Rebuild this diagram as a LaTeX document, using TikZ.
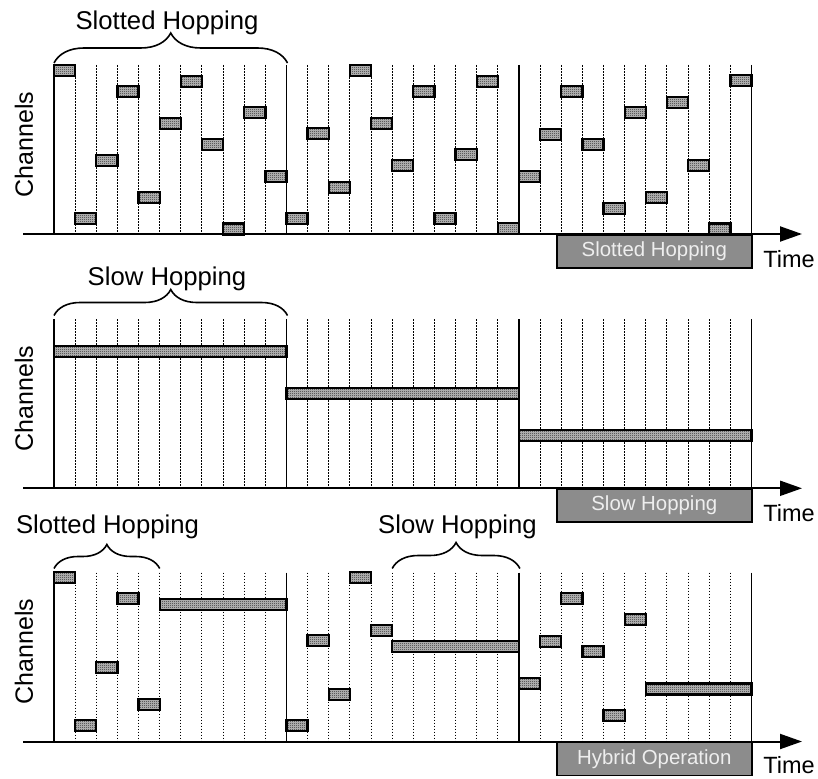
\documentclass[tikz,border=0pt]{standalone}
\usepackage{fontspec}
\setmainfont{Liberation Sans}
\usetikzlibrary{arrows.meta,patterns,decorations.pathreplacing}

% fine checkerboard used inside the channel occupancy blocks
\pgfdeclarepatternformonly{finechecker}{\pgfpointorigin}{\pgfpoint{2pt}{2pt}}{\pgfpoint{2pt}{2pt}}{%
  \pgfpathrectangle{\pgfpointorigin}{\pgfpoint{1pt}{1pt}}%
  \pgfpathrectangle{\pgfpoint{1pt}{1pt}}{\pgfpoint{1pt}{1pt}}%
  \pgfusepath{fill}}

\definecolor{boxgray}{RGB}{140,140,140}
\definecolor{boxtext}{RGB}{238,238,238}

% slot geometry: 33 slots of equal width starting at x = 54
\def\slotw{21.136}
\def\xorg{54}

% #1 panel top, #2 first slot, #3 slot after the last one, #4 depth below the top
\newcommand\hopblock[4]{%
  \pgfmathsetmacro\hbxa{\xorg+(#2)*\slotw}%
  \pgfmathsetmacro\hbxb{\xorg+(#3)*\slotw}%
  \pgfmathsetmacro\hbya{#1+#4}%
  \draw[chblock] (\hbxa,\hbya) rectangle (\hbxb,\hbya+11);}

% grid, frame separators and time axis of one panel; #1 axis y
\newcommand\hoppanel[2]{%
  \pgfmathsetmacro\hptop{#1-169}%
  \foreach \k in {1,...,32}{%
    \pgfmathtruncatemacro\km{mod(\k,11)}%
    \ifnum\km=0\else
      \pgfmathsetmacro\hpx{\xorg+\k*\slotw}%
      \draw[slotline] (\hpx,\hptop) -- (\hpx,#1);
    \fi}%
  #2%
  \foreach \k in {0,11,22,33}{%
    \pgfmathsetmacro\hpx{\xorg+\k*\slotw}%
    \draw[frameline] (\hpx,\hptop) -- (\hpx,#1);}%
}

\begin{document}
\begin{tikzpicture}[x=1pt,y=-1pt,
  slotline/.style={line width=1pt,dash pattern=on 1.8pt off 1.2pt,black},
  frameline/.style={line width=1.8pt,black},
  chblock/.style={line width=2.3pt,black,preaction={fill=black!25},pattern=finechecker,pattern color=black!85},
  timeaxis/.style={line width=2pt,-{Triangle[length=22pt,width=15pt]}},
  modebox/.style={draw=black,line width=1.6pt,fill=boxgray,text=boxtext,minimum width=195pt,minimum height=33pt,inner sep=0pt,font=\fontsize{20.4}{24}\selectfont},
  bracelabel/.style={anchor=base,inner sep=0pt,font=\fontsize{25.7}{30}\selectfont},
  axislabel/.style={inner sep=0pt,font=\fontsize{25}{30}\selectfont},
  timelabel/.style={anchor=base,inner sep=0pt,font=\fontsize{23.5}{28}\selectfont},
  hopbrace/.style={decorate,line width=1.6pt,decoration={brace,amplitude=#1}}]

\useasboundingbox (0,0) rectangle (818,778);

% ---------------- slotted hopping ----------------
\hoppanel{234}{%
  \foreach \s/\d in {0/0,1/148.3,2/90,3/21,4/127.3,5/52.7,6/11,7/74.3,8/158.5,9/42.3,10/106,
                     11/148.3,12/63.3,13/116.7,14/0,15/52.7,16/95,17/21,18/148.3,19/84.3,20/10.7,21/158.3,
                     22/105.7,23/63.7,24/21,25/74.3,26/137.7,27/42.3,28/127,29/31.7,30/95,31/158.5,32/10.3}
    {\hopblock{65}{\s}{\s+1}{\d}}}
\coordinate (a1s) at (23,234); \coordinate (a1e) at (802,234);
\draw[timeaxis] (a1s) -- (a1e);
\node[modebox,anchor=north west] (m1) at (556,234) {Slotted Hopping};
\node[timelabel] (t1) at (789,267) {Time};
\node[axislabel,rotate=90] (c1) at (24,144.5) {Channels};
\coordinate (b1l) at (54,63); \coordinate (b1r) at (287.5,63);
\draw[hopbrace=30pt] (b1l) -- (b1r);
\node[bracelabel] (l1) at (167,29.5) {Slotted Hopping};

% ---------------- slow hopping ----------------
\hoppanel{488.3}{%
  \hopblock{319.3}{0}{11}{26.5}%
  \hopblock{319.3}{11}{22}{68.7}%
  \hopblock{319.3}{22}{33}{111}}
\coordinate (a2s) at (23,488.3); \coordinate (a2e) at (802,488.3);
\draw[timeaxis] (a2s) -- (a2e);
\node[modebox,anchor=north west] (m2) at (556,488.3) {Slow Hopping};
\node[timelabel] (t2) at (789,521.7) {Time};
\node[axislabel,rotate=90] (c2) at (24,398.5) {Channels};
\coordinate (b2l) at (54,315.5); \coordinate (b2r) at (287.5,315.5);
\draw[hopbrace=26pt] (b2l) -- (b2r);
\node[bracelabel] (l2) at (167,285) {Slow Hopping};

% ---------------- hybrid operation ----------------
\hoppanel{741.5}{%
  \foreach \s/\d in {0/0,1/148.3,2/90,3/21,4/127.3,
                     11/148.3,12/63.3,13/116.7,14/0,15/52.7,
                     22/105.7,23/63.7,24/21,25/74.3,26/137.7,27/42.3}
    {\hopblock{572}{\s}{\s+1}{\d}}%
  \hopblock{572}{5}{11}{27.3}%
  \hopblock{572}{16}{22}{69}%
  \hopblock{572}{28}{33}{111.5}}
\coordinate (a3s) at (23,741.5); \coordinate (a3e) at (802,741.5);
\draw[timeaxis] (a3s) -- (a3e);
\node[modebox,anchor=north west] (m3) at (556,741.5) {Hybrid Operation};
\node[timelabel] (t3) at (789,773.5) {Time};
\node[axislabel,rotate=90] (c3) at (24,651.7) {Channels};
\coordinate (b3l) at (54,568.5); \coordinate (b3r) at (159.7,568.5);
\draw[hopbrace=24pt] (b3l) -- (b3r);
\node[bracelabel] (l3) at (107.5,533.3) {Slotted Hopping};
\coordinate (b4l) at (392.2,568.5); \coordinate (b4r) at (519.9,568.5);
\draw[hopbrace=26pt] (b4l) -- (b4r);
\node[bracelabel] (l4) at (457.5,533.3) {Slow Hopping};

\end{tikzpicture}
\end{document}
